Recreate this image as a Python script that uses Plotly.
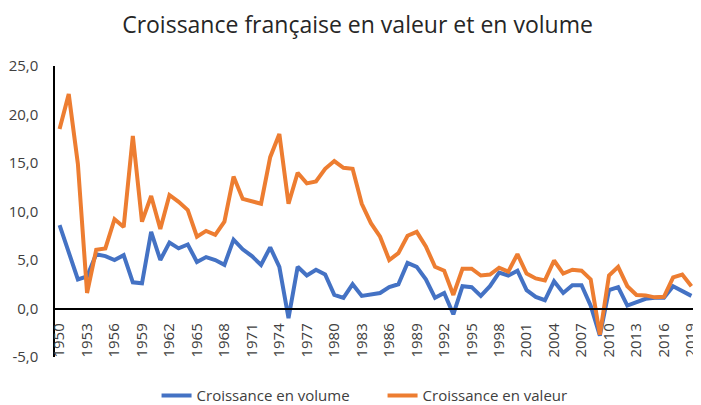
import plotly.graph_objects as go

years = list(range(1950, 2020))
volume = [8.6, 5.8, 3.0, 3.3, 5.6, 5.4, 5.0, 5.5, 2.7, 2.6,
          7.9, 5.0, 6.8, 6.2, 6.6, 4.8, 5.3, 5.0, 4.5, 7.1,
          6.1, 5.4, 4.5, 6.3, 4.3, -1.0, 4.3, 3.4, 4.0, 3.5,
          1.4, 1.1, 2.5, 1.3, 1.5, 1.6, 2.2, 2.5, 4.7, 4.3,
          3.0, 1.1, 1.6, -0.6, 2.3, 2.2, 1.3, 2.3, 3.7, 3.4,
          3.9, 1.9, 1.2, 0.85, 2.8, 1.6, 2.4, 2.4, 0.3, -2.8,
          1.9, 2.2, 0.3, 0.6, 1.0, 1.1, 1.1, 2.3, 1.8, 1.3]
valeur = [18.5, 22.1, 14.9, 1.6, 6.05, 6.2, 9.2, 8.4, 17.8, 8.95,
          11.6, 8.2, 11.7, 11.0, 10.15, 7.4, 8.0, 7.6, 8.95, 13.6,
          11.3, 11.1, 10.8, 15.6, 18.0, 10.8, 14.0, 12.9, 13.1, 14.4,
          15.2, 14.5, 14.4, 10.8, 8.8, 7.4, 5.0, 5.7, 7.5, 7.9,
          6.4, 4.3, 3.9, 1.4, 4.1, 4.1, 3.4, 3.5, 4.2, 3.8,
          5.6, 3.6, 3.1, 2.9, 4.95, 3.6, 4.0, 3.9, 3.0, -2.7,
          3.4, 4.3, 2.3, 1.4, 1.35, 1.15, 1.2, 3.2, 3.5, 2.3]

xtick_years = list(range(1950, 2020, 3))
xtick_labels = [str(y) for y in xtick_years]
ytick_vals = [-5, 0, 5, 10, 15, 20, 25]
ytick_labels = ["-5,0", "0,0", "5,0", "10,0", "15,0", "20,0", "25,0"]

title_text = "Croissance française en valeur et en volume"
name_volume = "Croissance en volume"
name_valeur = "Croissance en valeur"

FONT = "Open Sans"

# The page body has an 8px margin, so the figure is 8px smaller than the window.
W, H = 693, 397

fig = go.Figure()
fig.add_trace(go.Scatter(x=years, y=volume, mode="lines", name=name_volume,
                         line=dict(color="#4472C4", width=4)))
fig.add_trace(go.Scatter(x=years, y=valeur, mode="lines", name=name_valeur,
                         line=dict(color="#ED7D31", width=4)))

fig.update_layout(
    width=W, height=H,
    margin=dict(l=47, r=5, t=58, b=48, autoexpand=False),
    paper_bgcolor="white", plot_bgcolor="white",
    font=dict(family=FONT, color="#404040"),
    title=dict(text=title_text, x=349.5 / W, xref="container", xanchor="center",
               y=1 - 16.5 / H, yref="container", yanchor="middle",
               font=dict(family=FONT, size=23, color="#262626")),
    showlegend=True,
    legend=dict(orientation="h", x=0.511, xanchor="center", y=-0.133, yanchor="middle",
                font=dict(family=FONT, size=15, color="#404040"),
                bgcolor="rgba(0,0,0,0)", entrywidth=181, entrywidthmode="pixels"),
)

fig.update_xaxes(
    range=[1949.5, 2019.5],
    tickmode="array", tickvals=xtick_years, ticktext=xtick_labels,
    tickangle=-90, tickfont=dict(family=FONT, size=15, color="#404040"),
    showgrid=False, zeroline=False,
    showline=True, linecolor="black", linewidth=1.5,
    anchor="free", position=5 / 30, automargin=False,
    ticks="", ticklabelstandoff=8, ticklabeloverflow="allow",
)
fig.update_yaxes(
    range=[-5, 25],
    tickmode="array", tickvals=ytick_vals, ticktext=ytick_labels,
    tickfont=dict(family=FONT, size=15, color="#404040"),
    showgrid=False, zeroline=False, automargin=False,
    showline=True, linecolor="black", linewidth=1.5,
    ticks="", ticklabelstandoff=12,
)

fig.write_html("out.html")
